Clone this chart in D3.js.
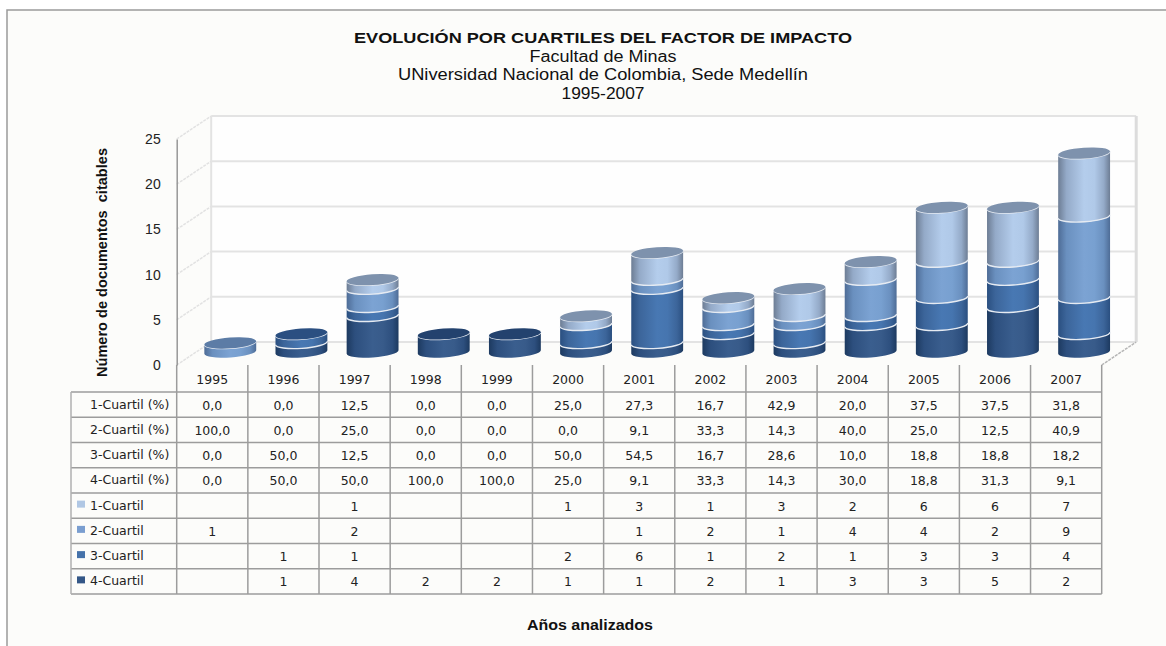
<!DOCTYPE html>
<html>
<head>
<meta charset="utf-8">
<script src="https://cdn.jsdelivr.net/npm/d3@7"></script>
<style>
  html, body { margin: 0; padding: 0; background: #fff; }
  svg { display: block; }
  .tbl text { font-family: "DejaVu Sans", sans-serif; font-size: 12.5px; fill: #222; }
</style>
</head>
<body>
<div id="vis"></div>
<script>
// values
const years = ["1995","1996","1997","1998","1999","2000","2001","2002","2003","2004","2005","2006","2007"];
const yTicks = [0, 5, 10, 15, 20, 25];

const q1 = [0,0,1,0,0,1,3,1,3,2,6,6,7];
const q2 = [1,0,2,0,0,0,1,2,1,4,4,2,9];
const q3 = [0,1,1,0,0,2,6,1,2,1,3,3,4];
const q4 = [0,1,4,2,2,1,1,2,1,3,3,5,2];

const pct1 = [0,0,12.5,0,0,25,27.3,16.7,42.9,20,37.5,37.5,31.8];
const pct2 = [100,0,25,0,0,0,9.1,33.3,14.3,40,25,12.5,40.9];
const pct3 = [0,50,12.5,0,0,50,54.5,16.7,28.6,10,18.8,18.8,18.2];
const pct4 = [0,50,50,100,100,25,9.1,33.3,14.3,30,18.8,31.3,9.1];

const rowLabels = ["1-Cuartil (%)","2-Cuartil (%)","3-Cuartil (%)","4-Cuartil (%)","1-Cuartil","2-Cuartil","3-Cuartil","4-Cuartil"];

const W = 1166, H = 646;

// front plane of the 3d box
const x = d3.scaleBand().domain(years).range([176.7, 1101.7]);
const y = d3.scaleLinear().domain([0, 25]).range([365, 139]);
const rows = d3.scaleBand().domain(rowLabels).range([392, 594]);

// depth of the box
const depthX = 34.5, depthY = -23;
const midX = 18, midY = -13;   // where the cylinders stand
const rx = 26, ry = 5.4, tilt = -4;

// side colours: edge, mid, light
const shades = {
  q1: ["#6d7d94", "#94aac8", "#b4cdec", "#b0c9e8"],
  q2: ["#4e6c96", "#6a90bf", "#7ca3d3", "#78a0d0"],
  q3: ["#2a4f80", "#3c659a", "#4878b3", "#4675af"],
  q4: ["#1d3a60", "#2d4f7e", "#3a5e8e", "#385b8a"]
};
const capColor = { q1: "#7e92ad", q2: "#5c7ca6", q3: "#2b4f81", q4: "#23426e" };
const swatch = { q1: "#b0c7e4", q2: "#7a9ed0", q3: "#4572aa", q4: "#345787" };

const svg = d3.select("#vis").append("svg")
  .attr("width", W).attr("height", H);

const defs = svg.append("defs");
Object.keys(shades).forEach(function(k) {
  const g = defs.append("linearGradient").attr("id", "side-" + k);
  const s = shades[k];
  [[0, s[0]], [0.16, s[1]], [0.5, s[2]], [0.7, s[3]], [0.88, s[1]], [1, s[0]]].forEach(function(d) {
    g.append("stop").attr("offset", d[0]).attr("stop-color", d[1]);
  });
});

// CHART AREA
svg.append("rect").attr("x", 7).attr("y", 10).attr("width", W).attr("height", H)
  .attr("fill", "#fcfcfa").attr("stroke", "#9a9a9a").attr("stroke-width", 1.5);

const left = x.range()[0], right = x.range()[1];

// BACK WALL
svg.append("rect")
  .attr("x", left + depthX).attr("y", y(25) + depthY)
  .attr("width", right - left).attr("height", y(0) - y(25))
  .attr("fill", "#fefefe");

svg.append("g").selectAll("line").data(yTicks).join("line")
  .attr("x1", left + depthX).attr("x2", right + depthX)
  .attr("y1", d => y(d) + depthY).attr("y2", d => y(d) + depthY)
  .attr("stroke", "#e3e3e3").attr("stroke-width", 2);

// side wall grid
svg.append("g").selectAll("line").data(yTicks).join("line")
  .attr("x1", left).attr("x2", left + depthX)
  .attr("y1", d => y(d)).attr("y2", d => y(d) + depthY)
  .attr("stroke", "#e2e2e2").attr("stroke-width", 1.5).attr("stroke-dasharray", "3 1");

svg.append("line")
  .attr("x1", left + depthX).attr("x2", left + depthX)
  .attr("y1", y(25) + depthY).attr("y2", y(0) + depthY)
  .attr("stroke", "#e3e3e3").attr("stroke-width", 2);
svg.append("line")
  .attr("x1", right + depthX).attr("x2", right + depthX)
  .attr("y1", y(25) + depthY).attr("y2", y(0) + depthY)
  .attr("stroke", "#dcdcdc").attr("stroke-width", 3);

// floor, right edge
svg.append("line")
  .attr("x1", right).attr("x2", right + depthX)
  .attr("y1", y(0)).attr("y2", y(0) + depthY)
  .attr("stroke", "#b5b5b5").attr("stroke-width", 1.5).attr("stroke-dasharray", "3 1");

// Y AXIS
const yAxis = svg.append("g")
  .attr("transform", "translate(" + left + ",0)")
  .call(d3.axisLeft(y).tickValues(yTicks).tickSize(0).tickPadding(16));
yAxis.select(".domain").attr("stroke", "#979797").attr("stroke-width", 1.5);
yAxis.selectAll("text")
  .style("font-family", "'Liberation Sans', Arial, sans-serif")
  .style("font-size", "14px").attr("fill", "#222");

// CYLINDERS
const stack = d3.stack().keys(["q4", "q3", "q2", "q1"]);
const stackData = stack(years.map(function(yr, i) {
  return { year: yr, q1: q1[i], q2: q2[i], q3: q3[i], q4: q4[i] };
}));

const rad = tilt * Math.PI / 180;
function leftPt(cx, cy) { return [cx - rx * Math.cos(rad), cy - rx * Math.sin(rad)]; }
function rightPt(cx, cy) { return [cx + rx * Math.cos(rad), cy + rx * Math.sin(rad)]; }

function sidePath(cx, y0, y1) {
  const a = leftPt(cx, y1), b = rightPt(cx, y1), c = rightPt(cx, y0), d = leftPt(cx, y0);
  return `M ${a} A ${rx} ${ry} ${tilt} 0 0 ${b} L ${c} A ${rx} ${ry} ${tilt} 0 1 ${d} Z`;
}
function frontArc(cx, cy) {
  const a = leftPt(cx, cy), b = rightPt(cx, cy);
  return `M ${a} A ${rx} ${ry} ${tilt} 0 0 ${b}`;
}

const bars = svg.append("g").attr("class", "bars");

years.forEach(function(yr, i) {
  const cx = x(yr) + x.bandwidth() / 2 + midX;
  const g = bars.append("g");
  let lastKey = null, topY = null;

  stackData.forEach(function(layer) {
    const d = layer[i];
    if (d[1] === d[0]) return;
    const y0 = y(d[0]) + midY, y1 = y(d[1]) + midY;
    g.append("path").attr("d", sidePath(cx, y0, y1)).attr("fill", "url(#side-" + layer.key + ")");
    lastKey = layer.key;
    topY = y1;
  });

  // white rim under each segment top
  stackData.forEach(function(layer) {
    const d = layer[i];
    if (d[1] === d[0]) return;
    g.append("path").attr("d", frontArc(cx, y(d[1]) + midY))
      .attr("fill", "none").attr("stroke", "#e6ebf2").attr("stroke-width", 1.4);
  });

  g.append("ellipse")
    .attr("cx", 0).attr("cy", 0).attr("rx", rx).attr("ry", ry)
    .attr("transform", `translate(${cx},${topY}) rotate(${tilt})`)
    .attr("fill", capColor[lastKey]);
});

// TABLE
const tbl = svg.append("g").attr("class", "tbl");
const lineColor = "#9c9c9c";
const colEdges = years.map(d => x(d)).concat([right]);
const tableLeft = 71;
const rowEdges = rowLabels.map(d => rows(d)).concat([rows.range()[1]]);

tbl.selectAll(".hline").data(rowEdges).join("line").attr("class", "hline")
  .attr("x1", tableLeft).attr("x2", right)
  .attr("y1", d => d).attr("y2", d => d)
  .attr("stroke", lineColor).attr("stroke-width", 1.5);

tbl.selectAll(".vline").data(colEdges).join("line").attr("class", "vline")
  .attr("x1", d => d).attr("x2", d => d)
  .attr("y1", y(0)).attr("y2", rows.range()[1])
  .attr("stroke", lineColor).attr("stroke-width", 1.5);

tbl.append("line")
  .attr("x1", tableLeft).attr("x2", tableLeft)
  .attr("y1", rows.range()[0]).attr("y2", rows.range()[1])
  .attr("stroke", "#b0b0b0").attr("stroke-width", 1.5);

// year labels
const xAxis = tbl.append("g")
  .attr("transform", "translate(0," + y(0) + ")")
  .call(d3.axisBottom(x).tickSize(0).tickPadding(10));
xAxis.select(".domain").remove();
xAxis.selectAll("text").attr("fill", "#222")
  .style("font-family", "'DejaVu Sans', sans-serif").style("font-size", "12.5px");

const fmtPct = d => d3.format(".1f")(d).replace(".", ",");
const tableRows = [
  [rowLabels[0], pct1, fmtPct], [rowLabels[1], pct2, fmtPct],
  [rowLabels[2], pct3, fmtPct], [rowLabels[3], pct4, fmtPct],
  [rowLabels[4], q1, d => d || ""], [rowLabels[5], q2, d => d || ""],
  [rowLabels[6], q3, d => d || ""], [rowLabels[7], q4, d => d || ""]
];
const legendKeys = { "1-Cuartil": "q1", "2-Cuartil": "q2", "3-Cuartil": "q3", "4-Cuartil": "q4" };

tableRows.forEach(function(r) {
  const cy = rows(r[0]) + rows.bandwidth() / 2;
  tbl.append("text").attr("x", 90).attr("y", cy - 0.5).attr("dy", "0.35em").text(r[0]);
  if (legendKeys[r[0]]) {
    tbl.append("rect").attr("x", 77).attr("y", cy - 5).attr("width", 8).attr("height", 7)
      .attr("fill", swatch[legendKeys[r[0]]]);
  }
  years.forEach(function(yr, i) {
    tbl.append("text")
      .attr("x", x(yr) + x.bandwidth() / 2).attr("y", cy + 0.5).attr("dy", "0.35em")
      .attr("text-anchor", "middle")
      .text(r[2](r[1][i]));
  });
});

// TITLES
const titles = svg.append("g").attr("text-anchor", "middle")
  .style("font-family", "'Liberation Sans', Arial, sans-serif").attr("fill", "#111");
function stretched(sel, len) {
  return sel.attr("textLength", len).attr("lengthAdjust", "spacingAndGlyphs");
}
stretched(titles.append("text").attr("x", 603).attr("y", 42.5)
  .style("font-weight", "bold").style("font-size", "15.5px")
  .text("EVOLUCIÓN POR CUARTILES DEL FACTOR DE IMPACTO"), 498);
stretched(titles.append("text").attr("x", 603).attr("y", 61.5).style("font-size", "16px").text("Facultad de Minas"), 147);
stretched(titles.append("text").attr("x", 603).attr("y", 80).style("font-size", "16px").text("UNiversidad Nacional de Colombia, Sede Medellín"), 410);
stretched(titles.append("text").attr("x", 603).attr("y", 98.5).style("font-size", "16px").text("1995-2007"), 83);

stretched(titles.append("text").attr("x", 590).attr("y", 630)
  .style("font-weight", "bold").style("font-size", "14.5px").text("Años analizados"), 126);
stretched(titles.append("text")
  .attr("transform", "translate(107,262.5) rotate(-90)")
  .style("font-weight", "bold").style("font-size", "14.5px").style("white-space", "pre")
  .text("Número de documentos  citables"), 229);
</script>
</body>
</html>
